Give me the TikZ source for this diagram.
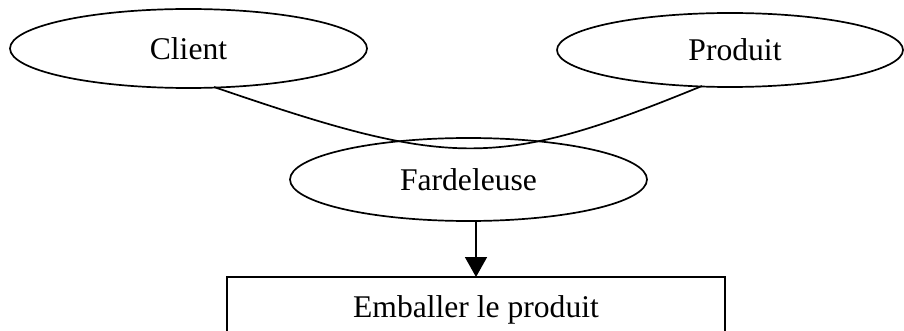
\documentclass[tikz,border=0pt]{standalone}
\usepackage{fontspec}
\setmainfont{Liberation Serif}
\usetikzlibrary{shapes.geometric,arrows.meta}
\begin{document}
\begin{tikzpicture}[x=1pt,y=-1pt,
  lw/.style={line width=1.7pt},
  txt/.style={font=\fontsize{31.6}{38}\selectfont},
  oval/.style={draw,lw,ellipse,inner sep=0pt,outer sep=0pt,txt},
  boxnode/.style={draw,lw,rectangle,inner xsep=0pt,inner ysep=18pt,outer sep=0pt,txt,
    minimum width=498pt,text height=22pt,text depth=40pt,anchor=north},
  arr/.style={lw,-{Triangle[width=22pt,length=20pt]}}]
\useasboundingbox (0,0) rectangle (904,331);
\clip (0,0) rectangle (904,331);
\node[oval,minimum width=357pt,minimum height=79pt] (cli) at (188.5,48.5) {Client};
\node[oval,minimum width=346pt,minimum height=74pt] (prod) at (730,50) {\hspace*{10pt}Produit};
\node[oval,minimum width=357pt,minimum height=83pt] (fard) at (468.5,179.5) {Fardeleuse};
\node[boxnode] (emb) at (476,277) {Emballer le produit};
\coordinate (cs) at ([xshift=25.5pt,yshift=1pt]cli.south);
\coordinate (pe) at ([xshift=-28pt,yshift=1pt]prod.south);
\draw[lw] (cs) .. controls (450,168) and (497,170) .. (pe);
\draw[arr] (fard.south -| emb.north) -- (emb.north);
\end{tikzpicture}
\end{document}
